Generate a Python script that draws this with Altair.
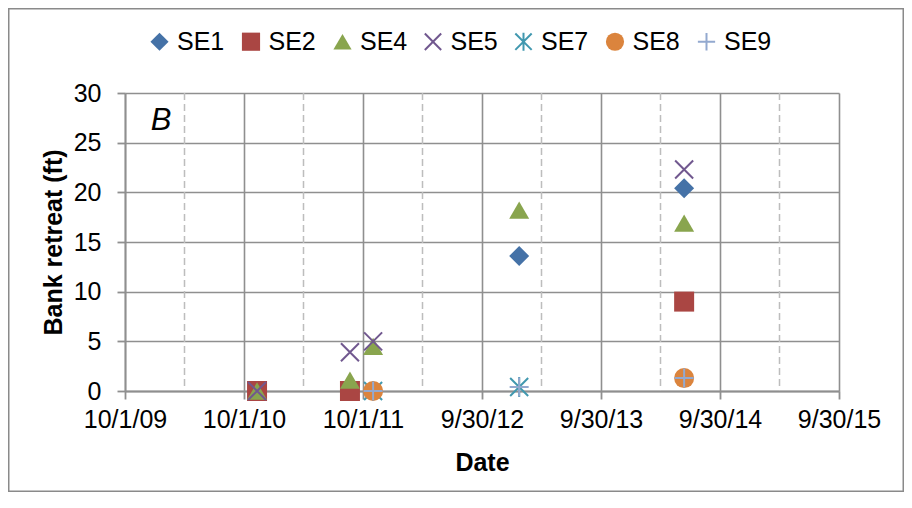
import altair as alt
import pandas as pd

FONT = "Liberation Sans"
GRID = "#8f8f8f"
MINOR = "#bdbdbd"

# ---- data ----
series = ["SE1", "SE2", "SE4", "SE5", "SE7", "SE8", "SE9"]

se1_dates = ["2010-11-10", "2013-01-22", "2014-06-12"]
se1_vals = [0.0, 13.6, 20.4]
se2_dates = ["2010-11-10", "2011-08-22", "2014-06-12"]
se2_vals = [0.0, 0.0, 9.0]
se4_dates = ["2010-11-10", "2011-08-22", "2011-11-01", "2013-01-22", "2014-06-12"]
se4_vals = [0.0, 1.1, 4.5, 18.2, 16.9]
se5_dates = ["2010-11-10", "2011-08-22", "2011-11-01", "2014-06-12"]
se5_vals = [0.0, 3.9, 5.0, 22.3]
se7_dates = ["2011-11-01", "2013-01-22"]
se7_vals = [0.0, 0.4]
se8_dates = ["2011-11-01", "2014-06-12"]
se8_vals = [0.0, 1.3]
se9_dates = ["2011-11-01", "2013-01-22", "2014-06-12"]
se9_vals = [0.0, 0.4, 1.3]

x_tick_dates = ["2009-10-01", "2010-10-01", "2011-10-01", "2012-09-30",
                "2013-09-30", "2014-09-30", "2015-09-30"]
minor_grid_dates = ["2010-04-01T12:00:00Z", "2011-04-01T12:00:00Z", "2012-03-31T12:00:00Z",
                    "2013-03-31T12:00:00Z", "2014-03-31T12:00:00Z", "2015-03-31T12:00:00Z"]
y_ticks = [0, 5, 10, 15, 20, 25, 30]
panel_label = ["B"]

fill_colors = ["#4572A7", "#AA4643", "#89A54E", "transparent", "transparent", "#DB843D", "transparent"]
stroke_colors = ["transparent", "transparent", "transparent", "#71588F", "#4198AF", "transparent", "#93A9CF"]
X_PATH = "M-0.9,-0.9L0.9,0.9M-0.9,0.9L0.9,-0.9"
AST_PATH = "M-0.9,-0.9L0.9,0.9M-0.9,0.9L0.9,-0.9M0,-1L0,1"
PLUS_PATH = "M-0.95,0L0.95,0M0,-0.95L0,0.95"
shapes = ["diamond", "square", "triangle-up", X_PATH, AST_PATH, "circle", PLUS_PATH]

all_dates = [se1_dates, se2_dates, se4_dates, se5_dates, se7_dates, se8_dates, se9_dates]
all_vals = [se1_vals, se2_vals, se4_vals, se5_vals, se7_vals, se8_vals, se9_vals]

rows = []
for name, ds, vs in zip(series, all_dates, all_vals):
    for d, v in zip(ds, vs):
        rows.append({"series": name, "date": d, "value": v})
df = pd.DataFrame(rows)


def dt(s):
    y, m, d = s[:10].split("-")
    return alt.DateTime(year=int(y), month=int(m), date=int(d), utc=True)


W, H = 714, 298
PL, PT, PR, PB = 117, 85, 65, 101
FS = 25

xscale = alt.Scale(type="utc", domain=[dt(x_tick_dates[0]), dt(x_tick_dates[-1])], nice=False)
yscale = alt.Scale(domain=[0, 30], nice=False, zero=True)

common_axis = dict(
    grid=True, gridColor=GRID, gridWidth=1.6,
    domainColor=GRID, domainWidth=1.8,
    tickColor=GRID, tickWidth=1.8, tickSize=8,
    labelFont=FONT, labelFontSize=FS, labelColor="black",
    labelFlush=False, labelOverlap=False, labelBound=False,
    titleFont=FONT, titleFontSize=FS, titleFontWeight="bold", titleColor="black",
)

xaxis = alt.Axis(values=[dt(s) for s in x_tick_dates],
                 labelExpr="utcFormat(datum.value, '%-m/%-d/%y')",
                 title="Date", labelPadding=8, titlePadding=18, **common_axis)
yaxis = alt.Axis(values=y_ticks, title="Bank retreat (ft)", labelPadding=16,
                 titlePadding=7, **common_axis)

legend = alt.Legend(
    title=None, orient="none", direction="horizontal", legendX=22, legendY=-64,
    labelFont=FONT, labelFontSize=FS, labelColor="black", labelOffset=5,
    symbolSize=330, symbolStrokeWidth=2, columnPadding=12.5,
)

frame = alt.Chart(pd.DataFrame({"k": [0]})).mark_rect(
    fill="transparent", stroke="#8a8a8a", strokeWidth=1.5
).encode(
    x=alt.value(-PL + 0.75), x2=alt.value(W + PR - 0.75),
    y=alt.value(-PT + 0.75), y2=alt.value(H + PB - 0.75),
)

minor = alt.Chart(pd.DataFrame({"date": minor_grid_dates})).mark_rule(
    color=MINOR, strokeWidth=1.5, strokeDash=[7, 4]
).encode(x=alt.X("date:T", scale=xscale, axis=xaxis))

points = alt.Chart(df).mark_point(size=400, opacity=1, strokeWidth=2).encode(
    x=alt.X("date:T", scale=xscale, axis=xaxis),
    y=alt.Y("value:Q", scale=yscale, axis=yaxis),
    fill=alt.Fill("series:N", scale=alt.Scale(domain=series, range=fill_colors), legend=legend),
    stroke=alt.Stroke("series:N", scale=alt.Scale(domain=series, range=stroke_colors), legend=legend),
    shape=alt.Shape("series:N", scale=alt.Scale(domain=series, range=shapes), legend=legend),
)

label_b = alt.Chart(pd.DataFrame({"t": panel_label})).mark_text(
    font=FONT, fontSize=31, fontStyle="italic", align="center", baseline="middle", color="black"
).encode(x=alt.value(36), y=alt.value(28), text="t:N")

chart = alt.layer(frame, minor, points, label_b).properties(
    width=W, height=H,
    autosize=alt.AutoSizeParams(type="none"),
    padding={"left": PL, "top": PT, "right": PR, "bottom": PB},
    background="white",
).configure_view(stroke="transparent")

chart.save("out.html", embed_options={"renderer": "svg", "actions": False})
